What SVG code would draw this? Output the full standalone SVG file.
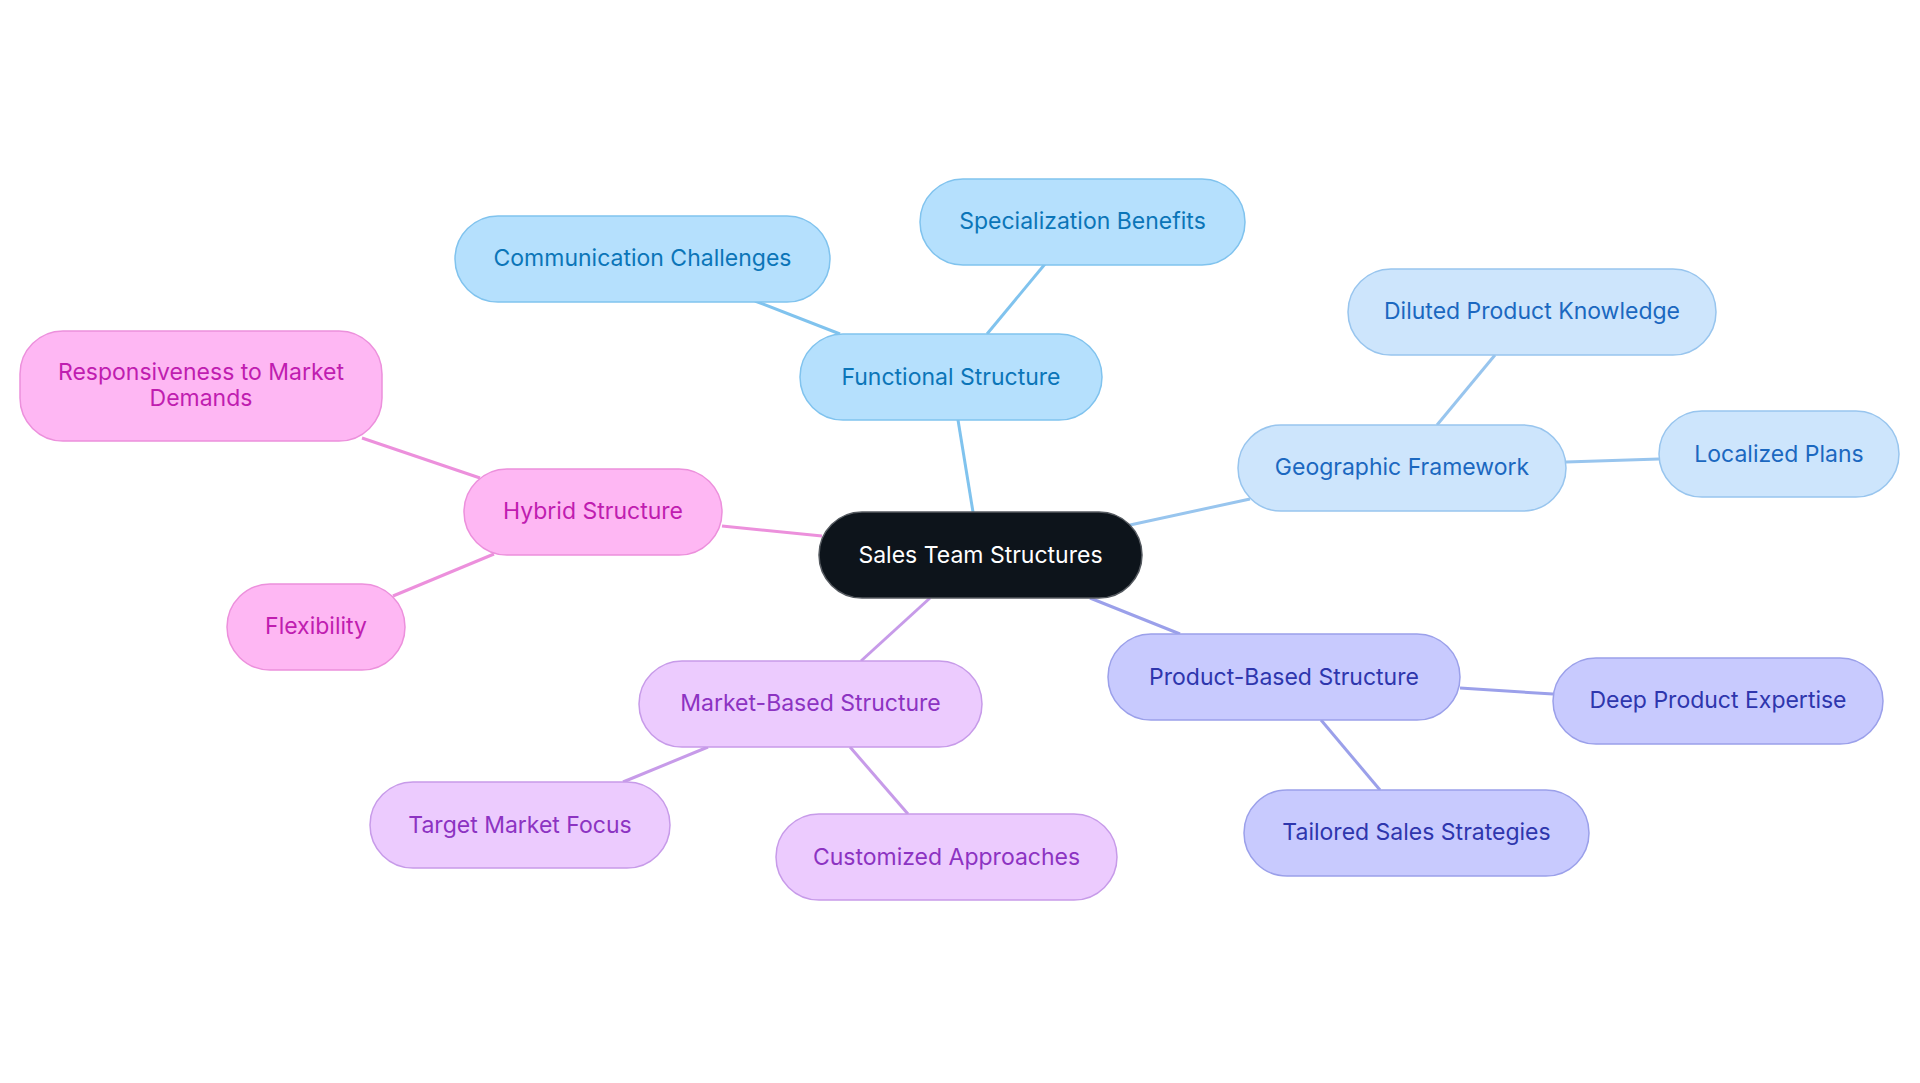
<svg xmlns="http://www.w3.org/2000/svg" width="1920" height="1083" viewBox="0 0 1920 1083">
<style>
text{font-family:Inter,"Noto Sans",sans-serif;font-size:23px;text-anchor:middle;dominant-baseline:central}
rect{stroke-width:1.5}
.f rect{fill:#b5e0fd;stroke:#80c3ee}.f text{fill:#0b75b8}
.g rect{fill:#cde5fc;stroke:#98c5ee}.g text{fill:#1b68c0}
.p rect{fill:#c8cafe;stroke:#9ba0ea}.p text{fill:#2e36ad}
.m rect{fill:#eccbfe;stroke:#c79be9}.m text{fill:#8c33c2}
.h rect{fill:#feb7f3;stroke:#ec90dc}.h text{fill:#c01db0}
line{stroke-width:3}
</style>
<rect width="1920" height="1083" fill="#fff"/>
<g id="connectors">
<line x1="980" y1="555" x2="951" y2="377" stroke="#80c3ee"/>
<line x1="987" y1="334" x2="1045" y2="264" stroke="#80c3ee"/>
<line x1="840" y1="334" x2="755" y2="301" stroke="#80c3ee"/>
<line x1="1130" y1="525" x2="1250" y2="499" stroke="#98c5ee"/>
<line x1="1437" y1="425" x2="1495" y2="355" stroke="#98c5ee"/>
<line x1="1566" y1="462" x2="1659" y2="459" stroke="#98c5ee"/>
<line x1="1090" y1="598" x2="1180" y2="634" stroke="#9ba0ea"/>
<line x1="1460" y1="688" x2="1553" y2="694" stroke="#9ba0ea"/>
<line x1="1321" y1="720" x2="1380" y2="790" stroke="#9ba0ea"/>
<line x1="930" y1="598" x2="861" y2="661" stroke="#c79be9"/>
<line x1="708" y1="747" x2="623" y2="782" stroke="#c79be9"/>
<line x1="850" y1="747" x2="908" y2="814" stroke="#c79be9"/>
<line x1="822" y1="536" x2="722" y2="526" stroke="#ec90dc"/>
<line x1="480" y1="478" x2="362" y2="438" stroke="#ec90dc"/>
<line x1="494" y1="554" x2="393" y2="596" stroke="#ec90dc"/>
</g>
<g id="center"><rect x="819" y="512" width="323" height="86" rx="43" fill="#0d141b" stroke="#555a60"/><text x="980.5" y="555" fill="#fff">Sales Team Structures</text></g>
<g id="functional" class="f"><rect x="800" y="334" width="302" height="86" rx="43"/><text x="951" y="377">Functional Structure</text></g>
<g id="specialization" class="f"><rect x="920" y="179" width="325" height="86" rx="43"/><text x="1082.5" y="221">Specialization Benefits</text></g>
<g id="communication" class="f"><rect x="455" y="216" width="375" height="86" rx="43"/><text x="642.5" y="258">Communication Challenges</text></g>
<g id="geographic" class="g"><rect x="1238" y="425" width="328" height="86" rx="43"/><text x="1402" y="467">Geographic Framework</text></g>
<g id="diluted" class="g"><rect x="1348" y="269" width="368" height="86" rx="43"/><text x="1532" y="311">Diluted Product Knowledge</text></g>
<g id="localized" class="g"><rect x="1659" y="411" width="240" height="86" rx="43"/><text x="1779" y="454">Localized Plans</text></g>
<g id="product" class="p"><rect x="1108" y="634" width="352" height="86" rx="43"/><text x="1284" y="677">Product-Based Structure</text></g>
<g id="deep" class="p"><rect x="1553" y="658" width="330" height="86" rx="43"/><text x="1718" y="700">Deep Product Expertise</text></g>
<g id="tailored" class="p"><rect x="1244" y="790" width="345" height="86" rx="43"/><text x="1416.5" y="832">Tailored Sales Strategies</text></g>
<g id="market" class="m"><rect x="639" y="661" width="343" height="86" rx="43"/><text x="810.5" y="703">Market-Based Structure</text></g>
<g id="target" class="m"><rect x="370" y="782" width="300" height="86" rx="43"/><text x="520" y="825">Target Market Focus</text></g>
<g id="customized" class="m"><rect x="776" y="814" width="341" height="86" rx="43"/><text x="946.5" y="857">Customized Approaches</text></g>
<g id="hybrid" class="h"><rect x="464" y="469" width="258" height="86" rx="43"/><text x="593" y="511">Hybrid Structure</text></g>
<g id="responsiveness" class="h"><rect x="20" y="331" width="362" height="110" rx="43"/><text x="201" y="372">Responsiveness to Market</text><text x="201" y="398">Demands</text></g>
<g id="flexibility" class="h"><rect x="227" y="584" width="178" height="86" rx="43"/><text x="316" y="626">Flexibility</text></g>
</svg>
